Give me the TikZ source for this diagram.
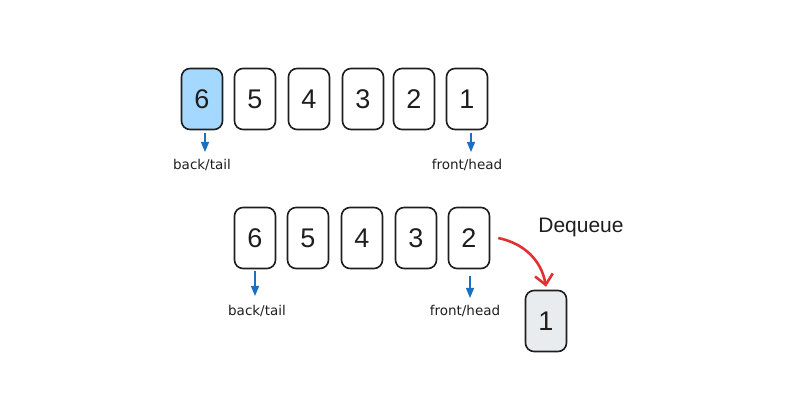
\documentclass[tikz,border=0pt]{standalone}
\usepackage{fontspec}
\setmainfont{Liberation Sans}
\newfontfamily\lblfont{DejaVu Sans}
\usetikzlibrary{arrows.meta}
\definecolor{ink}{HTML}{1E1E1E}
\definecolor{lblue}{HTML}{A5D8FF}
\definecolor{lgray}{HTML}{E9ECEF}
\definecolor{arrblue}{HTML}{1971C2}
\definecolor{arrred}{HTML}{E03131}
\tikzset{
  card/.style={draw=ink, line width=1.6pt, rounded corners=8.5pt, minimum width=41pt, minimum height=61pt, inner sep=0pt, font=\fontsize{27}{30}\selectfont, text=ink},
  lbl/.style={font=\lblfont\fontsize{13.5}{15}\selectfont, text=ink, inner sep=1pt},
  barrow/.style={draw=arrblue, line width=1.2pt, -{Triangle[width=8pt,length=10pt]}, arrblue},
  rarrow/.style={draw=arrred, line width=2.6pt, -{Straight Barb[length=10pt,width=18pt,line width=2.6pt]}}
}
\begin{document}
\begin{tikzpicture}[x=1pt,y=-1pt]
\useasboundingbox (0,0) rectangle (796,414);
% top row
\node[card, fill=lblue] (t6) at (202,99) {6};
\node[card] (t5) at (255,99) {5};
\node[card] (t4) at (309,99) {4};
\node[card] (t3) at (363,99) {3};
\node[card] (t2) at (414,99) {2};
\node[card] (t1) at (467,99) {1};
\node[lbl] (lt6) at (202,165) {back/tail};
\node[lbl] (lt1) at (467,165) {front/head};
\coordinate (et6) at (205,152);
\coordinate (et1) at (471,152);
\draw[barrow] (t6.south -| et6) ++(0,3) -- (et6);
\draw[barrow] (t1.south -| et1) ++(0,3) -- (et1);
% bottom row
\node[card] (b6) at (255,238) {6};
\node[card] (b5) at (308,238) {5};
\node[card] (b4) at (362,238) {4};
\node[card] (b3) at (416,238) {3};
\node[card] (b2) at (469,238) {2};
\node[card, fill=lgray] (b1) at (546,321) {1};
\node[lbl] (lb6) at (257,311) {back/tail};
\node[lbl] (lb2) at (465,311) {front/head};
\coordinate (eb6) at (255,296);
\coordinate (eb2) at (470,298);
\draw[barrow] (b6.south -| eb6) ++(0,2) -- (eb6);
\draw[barrow] (b2.south -| eb2) ++(0,7) -- (eb2);
\node[font=\fontsize{21}{24}\selectfont, text=ink] (dq) at (581,227) {Dequeue};
\draw[rarrow] ([xshift=8pt]b2.east) to[out=-12,in=100] ([yshift=3pt]b1.north);
\end{tikzpicture}
\end{document}
